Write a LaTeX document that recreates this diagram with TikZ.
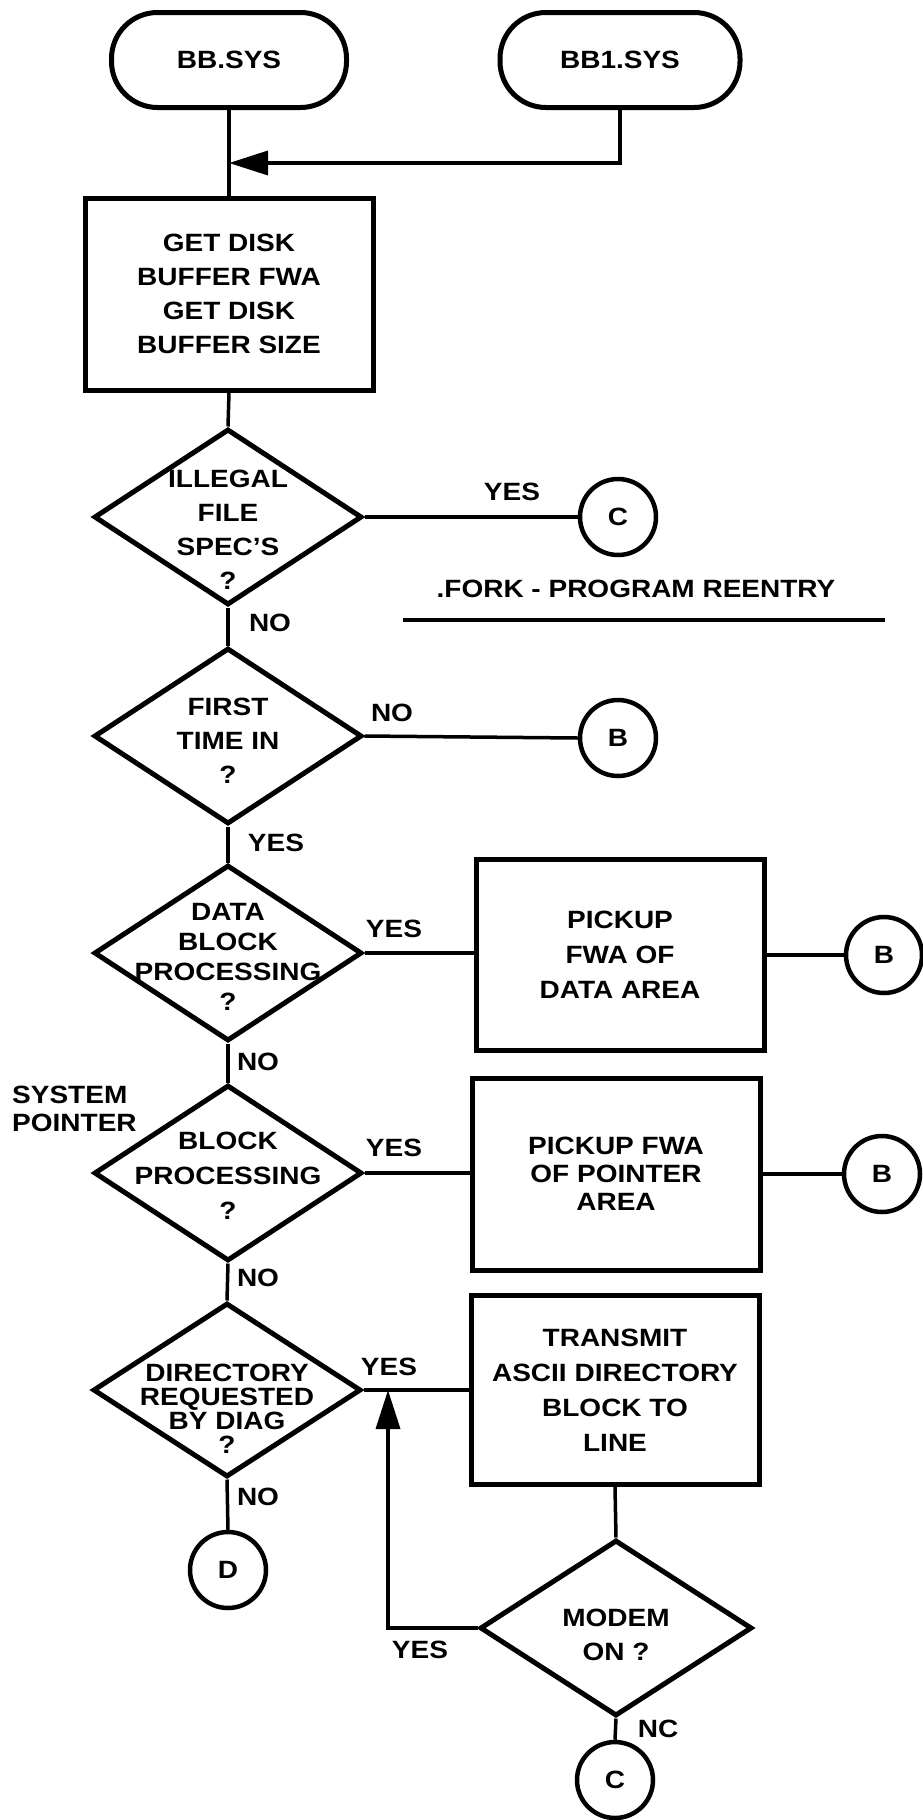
\documentclass[tikz,border=0pt]{standalone}
\usepackage{fontspec}
\newfontfamily\lbl{Liberation Sans}[FakeStretch=1.12]
\usetikzlibrary{shapes.geometric,arrows.meta}
\newcommand{\fs}[1]{\lbl\bfseries\fontsize{25}{#1}\selectfont}
\begin{document}
\begin{tikzpicture}[x=1pt,y=-1pt,
  every node/.style={font=\fs{32}},
  term/.style={draw, line width=5pt, rounded corners=46pt, minimum width=235pt, minimum height=95pt, inner sep=0pt},
  proc/.style={draw, line width=5pt, minimum width=288pt, minimum height=192pt, inner sep=0pt, align=center},
  dec/.style={draw, diamond, line width=5pt, minimum width=268pt, minimum height=176pt, inner sep=0pt},
  conn/.style={draw, circle, line width=4.5pt, minimum size=76pt, inner sep=0pt},
  txt/.style={align=center, inner sep=0pt},
  lab/.style={inner sep=0pt},
  link/.style={line width=3.5pt},
  tip/.style={-{Triangle[length=39pt,width=24pt]}}]
\useasboundingbox (0,0) rectangle (923,1820);

% terminals
\node[term] (bb) at (229,60) {BB.SYS};
\node[term, minimum width=240pt] (bb1) at (620,60) {BB1.SYS};
\coordinate (j1) at (229,163);

% get disk box
\node[proc, font=\fs{34}] (p1) at (229,294) {GET DISK\\BUFFER FWA\\GET DISK\\BUFFER SIZE};

% decision 1
\node[dec] (d1) at (228,517) {};
\node[txt, font=\fs{34}] (d1t) at (228,530) {ILLEGAL\\FILE\\SPEC’S\\?};
\node[conn] (c1) at (618,517) {C};
\node[lab] (y1) at (512,492) {YES};
\node[lab] (fork) at (636,589) {.FORK - PROGRAM REENTRY};
\coordinate (u1) at (403,620);
\coordinate (u2) at (885,620);
\node[lab] (n1) at (270,623) {NO};

% decision 2
\node[dec] (d2) at (228,736) {};
\node[txt, font=\fs{34}] (d2t) at (228,741) {FIRST\\TIME IN\\?};
\node[conn] (c2) at (618,738) {B};
\node[lab] (n2) at (392,713) {NO};
\node[lab] (y2) at (276,843) {YES};

% decision 3
\node[dec] (d3) at (228,953) {};
\node[txt, font=\fs{30}] (d3t) at (228,957) {DATA\\BLOCK\\PROCESSING\\?};
\node[proc, font=\fs{35}, minimum height=191pt] (p2) at (620,955) {PICKUP\\FWA OF\\DATA AREA};
\node[conn] (c3) at (884,955) {B};
\node[lab] (y3) at (394,929) {YES};
\node[lab] (n3) at (258,1062) {NO};

% decision 4
\node[txt, anchor=west, align=left, font=\fs{28}] (sp) at (12,1109) {SYSTEM\\POINTER};
\node[dec] (d4) at (228,1173) {};
\node[txt, font=\fs{35}] (d4t) at (228,1176) {BLOCK\\PROCESSING\\?};
\node[proc, font=\fs{28}] (p3) at (616,1174) {PICKUP FWA\\OF POINTER\\AREA};
\node[conn] (c4) at (882,1174) {B};
\node[lab] (y4) at (394,1148) {YES};
\node[lab] (n4) at (258,1278) {NO};

% decision 5
\node[dec, minimum width=268pt, minimum height=174pt] (d5) at (227,1390) {};
\node[txt, font=\fs{24}] (d5t) at (227,1409) {DIRECTORY\\REQUESTED\\BY DIAG\\?};
\node[proc, font=\fs{35}, minimum height=189pt] (p4) at (615,1390) {TRANSMIT\\ASCII DIRECTORY\\BLOCK TO\\LINE};
\node[lab] (y5) at (389,1367) {YES};
\coordinate (j2) at (388,1390);
\node[lab] (n5) at (258,1497) {NO};
\node[conn] (c6) at (228,1570) {D};

% decision 6
\node[dec, minimum width=272pt, minimum height=176pt] (d6) at (616,1628) {};
\node[txt, font=\fs{34}] (d6t) at (616,1635) {MODEM\\ON ?};
\node[lab] (y6) at (420,1650) {YES};
\node[lab] (nc) at (658,1729) {NC};
\node[conn] (c5) at (615,1780) {C};

% connectors
\draw[link] (bb.south) -- (p1.north);
\draw[link, tip] (bb1.south) |- (j1);
\draw[link] (p1.south) -- (d1.north);
\draw[link] (d1.east) -- (c1.west);
\draw[line width=4pt] (u1) -- (u2);
\draw[link] (d1.south) -- (d2.north);
\draw[link] (d2.east) -- (c2.west);
\draw[link] (d2.south) -- (d3.north);
\draw[link] (d3.east) -- (d3.east -| p2.west);
\draw[link] (p2.east |- c3.west) -- (c3.west);
\draw[link] (d3.south) -- (d4.north);
\draw[link] (d4.east) -- (d4.east -| p3.west);
\draw[link] (p3.east |- c4.west) -- (c4.west);
\draw[link] (d4.south) -- (d5.north);
\draw[link] (d5.east) -- (d5.east -| p4.west);
\draw[link] (d5.south) -- (c6.north);
\draw[link] (p4.south) -- (d6.north);
\draw[link, tip] (d6.west) -| (j2);
\draw[link] (d6.south) -- (c5.north);
\end{tikzpicture}
\end{document}
